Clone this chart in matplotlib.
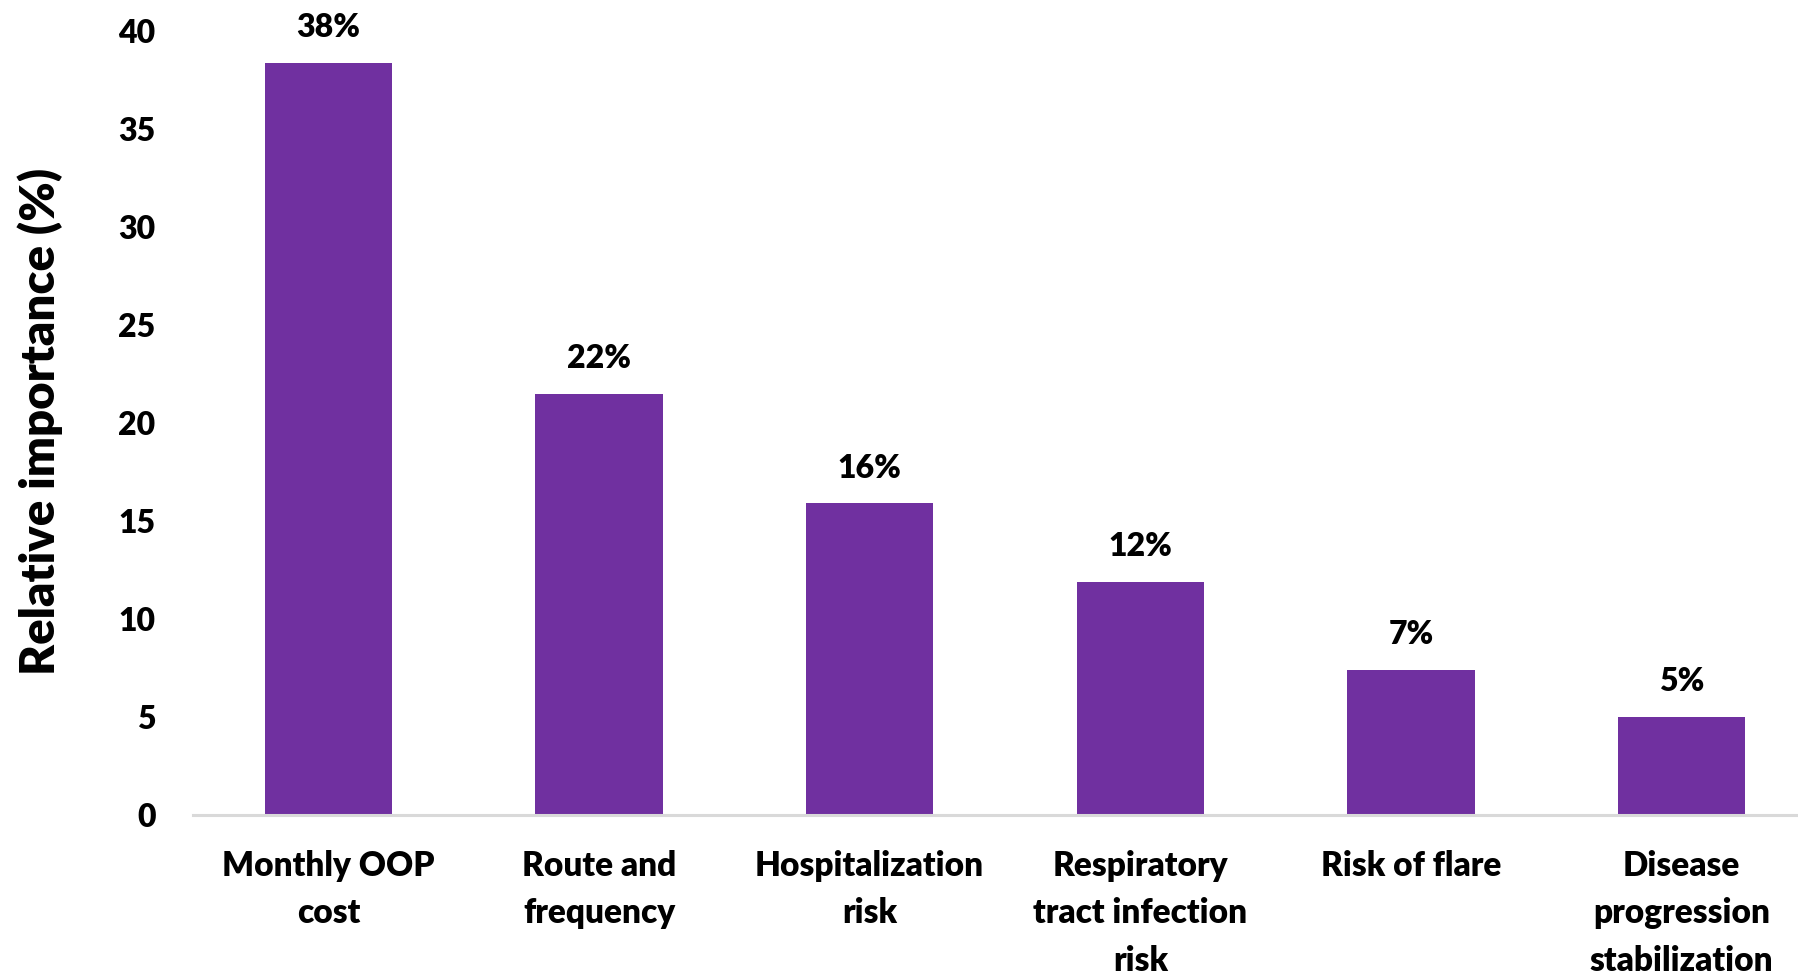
import matplotlib
matplotlib.use("Agg")
import matplotlib.pyplot as plt

plt.rcParams['font.family'] = ['Lato', 'DejaVu Sans']
plt.rcParams['font.weight'] = 'heavy'

categories = [
    "Monthly OOP\ncost",
    "Route and\nfrequency",
    "Hospitalization\nrisk",
    "Respiratory\ntract infection\nrisk",
    "Risk of flare",
    "Disease\nprogression\nstabilization",
]
importance = [38.4, 21.5, 15.9, 11.9, 7.4, 5.0]
yticks = [0, 5, 10, 15, 20, 25, 30, 35, 40]

bar_color = "#7030A0"
weight = "heavy"

fig = plt.figure(figsize=(17.98, 9.76), dpi=100)
ax = fig.add_axes([193 / 1798, 0.165, (1817 - 193) / 1798, 0.803])

x = range(len(categories))
bars = ax.bar(x, importance, width=0.47, color=bar_color, zorder=2)

for rect, v in zip(bars, importance):
    ax.annotate(f"{v:.0f}%", (rect.get_x() + rect.get_width() / 2, rect.get_height()),
                xytext=(0, 15), textcoords="offset points",
                ha="center", va="bottom", fontsize=23, fontweight=weight,
                color="black", annotation_clip=False)

ax.set_xlim(-0.5, 5.5)
ax.set_ylim(0, 40)
ax.set_yticks(yticks)
ax.set_yticklabels([str(t) for t in yticks], fontsize=23, fontweight=weight)
ax.set_xticks(list(x))
ax.set_xticklabels(categories, fontsize=24, fontweight=weight, linespacing=1.6, va="top")
ax.tick_params(axis="y", length=0, pad=27)
ax.tick_params(axis="x", length=0, pad=25)

for side in ("top", "right", "left"):
    ax.spines[side].set_visible(False)
ax.spines["bottom"].set_color("#d9d9d9")
ax.spines["bottom"].set_linewidth(2.2)

ax.set_ylabel("Relative importance (%)", fontsize=34, fontweight=weight, va="center")
ax.yaxis.set_label_coords(-(193 - 40) / (1817 - 193), (815 - 421) / (0.803 * 976))

fig.savefig("out.png", dpi=100)
